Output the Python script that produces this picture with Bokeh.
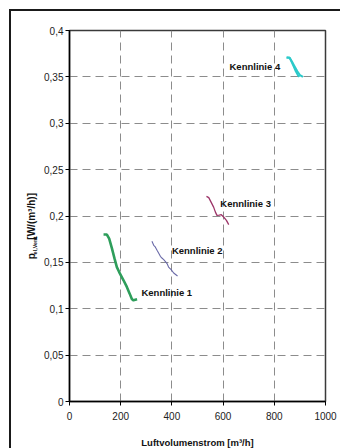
from math import pi
from bokeh.plotting import figure
from bokeh.layouts import row
from bokeh.models import FixedTicker, Range1d
from bokeh.core.properties import value
from bokeh.embed import file_html
from bokeh.resources import INLINE

# ---- data ----
x_ticks = [0, 200, 400, 600, 800, 1000]
x_tick_labels = ["0", "200", "400", "600", "800", "1000"]
y_ticks = [0, 0.05, 0.1, 0.15, 0.2, 0.25, 0.3, 0.35, 0.4]
y_tick_labels = ["0", "0,05", "0,1", "0,15", "0,2", "0,25", "0,3", "0,35", "0,4"]

k1_x = [133, 146, 155, 166, 176, 185, 194, 211, 224, 235, 244, 250, 264]
k1_y = [0.180, 0.180, 0.1756, 0.1648, 0.154, 0.1449, 0.1396, 0.1307, 0.1235, 0.1163, 0.1102, 0.1091, 0.1102]

k2_x = [322, 329, 335, 342, 348, 355, 361, 368, 374, 381, 387, 397, 407, 422]
k2_y = [0.1727, 0.1684, 0.1666, 0.163, 0.160, 0.1565, 0.1547, 0.153, 0.1511, 0.1487, 0.145, 0.1422, 0.1385, 0.1353]

k3_x = [535, 544, 553, 563, 570, 576, 585, 593, 602, 613, 622]
k3_y = [0.2212, 0.2198, 0.215, 0.2096, 0.2042, 0.2007, 0.201, 0.2014, 0.1989, 0.1953, 0.1907]

k4_xa = [848, 860, 868, 876, 884, 892, 898]
k4_xb = [848, 860, 870, 880, 890, 900, 912]
k4_y = [0.371, 0.3705, 0.366, 0.361, 0.356, 0.352, 0.350]

label_names = ["Kennlinie 1", "Kennlinie 2", "Kennlinie 3", "Kennlinie 4"]
label_x = [281, 400, 589, 625]
label_y = [0.1173, 0.163, 0.2136, 0.3612]

y_title_parts = ["p", "el,Vent", "[W/(m³/h)]"]

FONT = "Liberation Sans"
H = 447          # canvas runs past the window's lower edge (cropped like the reference)
BOTTOM = H - 19 - 371

# ---- narrow panel holding the rotated y-axis title ----
LW = 30
t = figure(width=LW, height=H, output_backend="svg", toolbar_location=None,
           x_range=Range1d(0, LW), y_range=Range1d(0, H),
           min_border=0, x_axis_type=None, y_axis_type=None)
t.outline_line_color = None
t.xgrid.visible = False
t.ygrid.visible = False
t.background_fill_color = "white"
t.border_fill_color = "white"
t.text(x=[20, 23.2, 20], y=[161.3 + (H - 437), 167.2 + (H - 437), 185.0 + (H - 437)],
       text=y_title_parts, angle=pi / 2, text_font=value(FONT), text_font_style="bold",
       text_font_size=["10px", "5.5px", "10px"], text_align="left",
       text_baseline="middle", text_color="#111111")

# ---- main chart ----
p = figure(width=319, height=H, output_backend="svg", toolbar_location=None,
           x_range=Range1d(0, 1000), y_range=Range1d(0, 0.4),
           min_border_left=28, min_border_right=35, min_border_top=19, min_border_bottom=BOTTOM)
p.background_fill_color = "white"
p.border_fill_color = "white"
p.outline_line_color = "#3a3a3a"
p.outline_line_width = 1.5

for ax in (p.xaxis[0], p.yaxis[0]):
    ax.axis_line_color = "black"
    ax.axis_line_width = 1.5
    ax.major_tick_line_color = "black"
    ax.major_tick_out = 4
    ax.major_tick_in = 0
    ax.minor_tick_line_color = None
    ax.major_label_text_font = FONT
    ax.major_label_text_font_size = "10px"
    ax.major_label_text_color = "#222222"

p.xaxis.ticker = FixedTicker(ticks=x_ticks)
p.xaxis.major_label_overrides = dict(zip(x_ticks, x_tick_labels))
p.yaxis.ticker = FixedTicker(ticks=y_ticks)
p.yaxis.major_label_overrides = dict(zip(y_ticks, y_tick_labels))
p.xaxis.major_label_standoff = 6
p.yaxis.major_label_standoff = 2

p.xaxis.axis_label = "Luftvolumenstrom [m³/h]"
p.xaxis.axis_label_text_font = FONT
p.xaxis.axis_label_text_font_style = "bold"
p.xaxis.axis_label_text_font_size = "9.5px"
p.xaxis.axis_label_text_color = "#111111"
p.xaxis.axis_label_standoff = 14

for g, tk in ((p.xgrid, x_ticks), (p.ygrid, y_ticks)):
    g.ticker = FixedTicker(ticks=tk)
    g.grid_line_color = "#8c8c8c"
    g.grid_line_dash = "8 5"
    g.grid_line_width = 1

p.line(k1_x, k1_y, line_color="#2e9e5b", line_width=2.6)
p.line(k2_x, k2_y, line_color="#6a6aa8", line_width=1.1)
p.line(k3_x, k3_y, line_color="#9c3468", line_width=1.3)
p.line(k4_xa, k4_y, line_color="#2ccaca", line_width=2)
p.line(k4_xb, k4_y, line_color="#2ccaca", line_width=2)

p.text(x=label_x, y=label_y, text=label_names, text_font=value(FONT),
       text_font_style="bold", text_font_size="9.5px", text_baseline="middle",
       text_align="left", text_color="#111111")

layout = row(t, p, spacing=0)
layout.styles = {"margin-left": "9px", "margin-top": "9px",
                 "border-left": "2px solid #1a1a1a", "border-top": "2px solid #1a1a1a"}

html = file_html(layout, INLINE)
html = html.replace("<head>", "<head><style>html,body{overflow:hidden}</style>", 1)
open("out.html", "w").write(html)
